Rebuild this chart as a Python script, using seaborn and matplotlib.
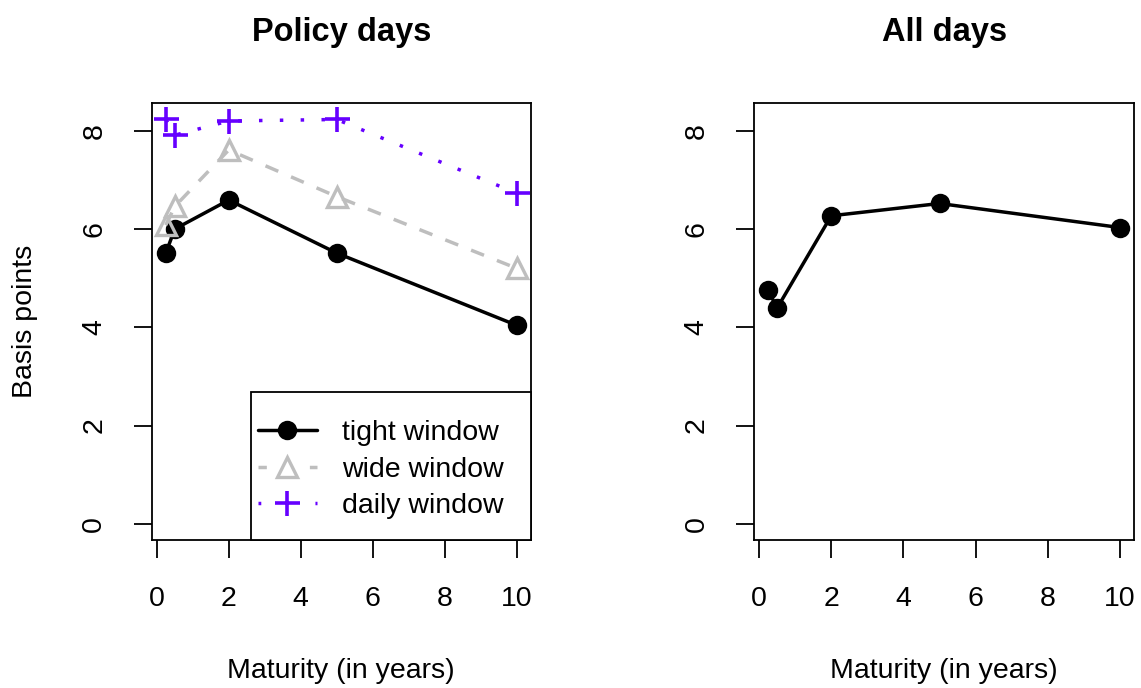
import numpy as np
import pandas as pd
import seaborn as sns
import matplotlib.pyplot as plt
from matplotlib.patches import Rectangle

# maturities (years) and spreads (basis points)
maturity = [0.25, 0.5, 2, 5, 10]
tight_window = [5.51, 6.00, 6.59, 5.51, 4.04]
wide_window = [6.08, 6.46, 7.61, 6.66, 5.20]
daily_window = [8.23, 7.91, 8.20, 8.23, 6.73]
all_days = [4.76, 4.39, 6.27, 6.52, 6.03]

sns.set_style("white")
plt.rcParams['font.family'] = ['Liberation Sans', 'DejaVu Sans']
plt.rcParams['text.color'] = 'black'
plt.rcParams['axes.labelcolor'] = 'black'
plt.rcParams['xtick.color'] = 'black'
plt.rcParams['ytick.color'] = 'black'

FS = 20.5
purple = '#6600FF'
gray = '#BEBEBE'

fig = plt.figure(figsize=(11.41, 6.88), dpi=100)
ax1 = fig.add_axes([0.133, 0.2151, 0.3322, 0.6348])
ax2 = fig.add_axes([0.6608, 0.2151, 0.3333, 0.6348])

df = pd.DataFrame({'maturity': maturity, 'tight': tight_window,
                   'wide': wide_window, 'daily': daily_window, 'all': all_days})

sns.lineplot(data=df, x='maturity', y='tight', ax=ax1, color='black', lw=2.5,
             marker='o', markersize=14, markeredgecolor='black',
             markeredgewidth=0, label='tight window', errorbar=None)
sns.lineplot(data=df, x='maturity', y='wide', ax=ax1, color=gray, lw=2.5,
             linestyle=(0, (4, 4)), marker='^', markersize=15,
             markerfacecolor='none', markeredgecolor=gray, markeredgewidth=2.4,
             label='wide window', errorbar=None)
sns.lineplot(data=df, x='maturity', y='daily', ax=ax1, color=purple, lw=2.5,
             linestyle=(0, (1, 5)), marker='+', markersize=18,
             markeredgecolor=purple, markeredgewidth=2.6,
             label='daily window', errorbar=None)

sns.lineplot(data=df, x='maturity', y='all', ax=ax2, color='black', lw=2.5,
             marker='o', markersize=14, markeredgecolor='black',
             markeredgewidth=0, errorbar=None, legend=False)

for ax, title in [(ax1, 'Policy days'), (ax2, 'All days')]:
    ax.set_xlim(-0.14, 10.39)
    ax.set_ylim(-0.33, 8.56)
    ax.set_xticks([0, 2, 4, 6, 8, 10])
    ax.set_yticks([0, 2, 4, 6, 8])
    ax.tick_params(axis='both', direction='out', length=13, width=1.3,
                   labelsize=FS, color='black', left=True, bottom=True)
    ax.tick_params(axis='x', pad=20)
    ax.tick_params(axis='y', pad=19)
    for lab in ax.get_yticklabels():
        lab.set_rotation(90)
        lab.set_va('center')
    for sp in ax.spines.values():
        sp.set_color('black')
        sp.set_linewidth(1.3)
    ax.set_xlabel('Maturity (in years)', fontsize=FS, labelpad=33)
    ax.set_ylabel('')
    ax.set_title(title, fontsize=23.5, fontweight='bold', pad=45)

ax1.set_ylabel('Basis points', fontsize=FS, labelpad=31)

# legend box flush with the lower right corner, R style
ax1.add_patch(Rectangle((0.262, 0.0), 0.738, 0.338, transform=ax1.transAxes,
                        facecolor='white', edgecolor='black', lw=1.3,
                        zorder=4, clip_on=False))
leg = ax1.legend(loc='upper left', bbox_to_anchor=(0.28, 0.274), fontsize=FS,
                 frameon=False, borderpad=0, borderaxespad=0,
                 handlelength=2.07, handletextpad=0.9, labelspacing=0.37)
leg.set_zorder(5)
handles = leg.get_lines()
handles[1].set_linestyle((0, (2.4, 12.4)))
handles[2].set_linestyle((0, (0.8, 15.6)))

fig.savefig('out.png', dpi=100)
